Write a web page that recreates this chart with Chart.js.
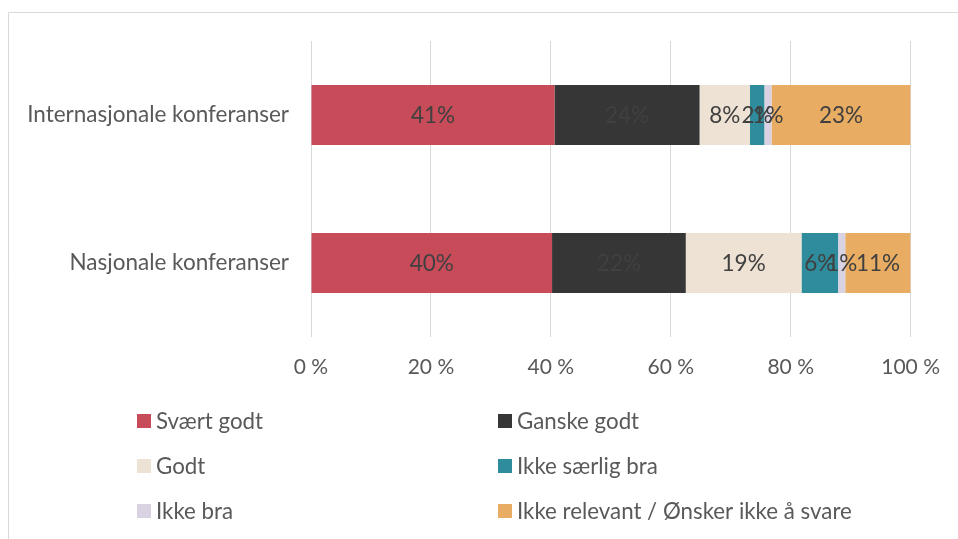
<!DOCTYPE html>
<html><head><meta charset="utf-8">
<script src="https://cdn.jsdelivr.net/npm/chart.js@4"></script>
<style>html,body{margin:0;padding:0;background:#fff}#w{width:958px;height:539px}</style>
</head><body><div id="w"><canvas id="c" width="958" height="539"></canvas></div>
<script>
const categories = ['Internasjonale konferanser', 'Nasjonale konferanser'];
const seriesNames = ['Svært godt', 'Ganske godt', 'Godt', 'Ikke særlig bra', 'Ikke bra', 'Ikke relevant / Ønsker ikke å svare'];
const svaertGodt = [40.6, 40.2];
const ganskeGodt = [24.2, 22.3];
const godt = [8.4, 19.3];
const ikkeSaerligBra = [2.4, 6.1];
const ikkeBra = [1.2, 1.2];
const ikkeRelevant = [23.2, 10.9];
const xTicks = [0, 20, 40, 60, 80, 100];
const colors = ['#C84B5A', '#363636', '#EDE2D3', '#2E8C9D', '#D9D2E2', '#E8AC62'];

const FONT = 'Lato';
const seriesValues = [svaertGodt, ganskeGodt, godt, ikkeSaerligBra, ikkeBra, ikkeRelevant];

const borderPlugin = {
  id: 'border',
  beforeDraw(chart) {
    const c = chart.ctx;
    c.save();
    c.strokeStyle = '#d9d9d9';
    c.lineWidth = 1;
    c.beginPath();
    c.moveTo(8.5, 539);
    c.lineTo(8.5, 12.5);
    c.lineTo(958, 12.5);
    c.stroke();
    c.restore();
  }
};

const labelPlugin = {
  id: 'barLabels',
  afterDatasetsDraw(chart) {
    const c = chart.ctx;
    c.save();
    c.font = '22.5px ' + FONT;
    c.fillStyle = '#404040';
    c.textAlign = 'center';
    c.textBaseline = 'middle';
    chart.data.datasets.forEach((ds, i) => {
      const meta = chart.getDatasetMeta(i);
      meta.data.forEach((bar, j) => {
        const p = bar.getProps(['x', 'y', 'base'], true);
        c.fillText(Math.round(ds.data[j]) + '%', (p.x + p.base) / 2, p.y + 1);
      });
    });
    c.restore();
  }
};

const legendPlugin = {
  id: 'gridLegend',
  afterDraw(chart) {
    const c = chart.ctx;
    const colX = [137, 498];
    const rowY = [421, 466, 511];
    c.save();
    c.font = '22.3px ' + FONT;
    c.textBaseline = 'middle';
    c.textAlign = 'left';
    chart.data.datasets.forEach((ds, i) => {
      const x = colX[i % 2];
      const y = rowY[Math.floor(i / 2)];
      c.fillStyle = ds.backgroundColor;
      c.fillRect(x, y - 7, 14, 14);
      c.fillStyle = '#595959';
      c.fillText(ds.label, x + 19, y + 1);
    });
    c.restore();
  }
};

new Chart(document.getElementById('c'), {
  type: 'bar',
  data: {
    labels: categories,
    datasets: seriesNames.map((name, i) => ({
      label: name,
      data: seriesValues[i],
      backgroundColor: colors[i],
      borderWidth: 0,
      categoryPercentage: 0.5,
      barPercentage: 0.81
    }))
  },
  options: {
    indexAxis: 'y',
    responsive: false,
    animation: false,
    layout: { padding: { left: 0, right: 46, top: 41, bottom: 152 } },
    plugins: { legend: { display: false }, tooltip: { enabled: false } },
    scales: {
      x: {
        stacked: true,
        min: 0,
        max: 100,
        afterBuildTicks(scale) { scale.ticks = xTicks.map(v => ({ value: v })); },
        afterFit(scale) { scale.height = 50; },
        grid: { color: '#d9d9d9', drawTicks: false, lineWidth: 1 },
        border: { display: false },
        ticks: {
          padding: 18,
          color: '#595959',
          font: { family: FONT, size: 21 },
          maxRotation: 0,
          callback: v => v + ' %'
        }
      },
      y: {
        stacked: true,
        afterFit(scale) { scale.width = 311; },
        grid: { display: false },
        border: { display: false },
        ticks: {
          padding: 14,
          color: '#595959',
          font: { family: FONT, size: 22.5 }
        }
      }
    }
  },
  plugins: [borderPlugin, labelPlugin, legendPlugin]
});
</script>
</body></html>
